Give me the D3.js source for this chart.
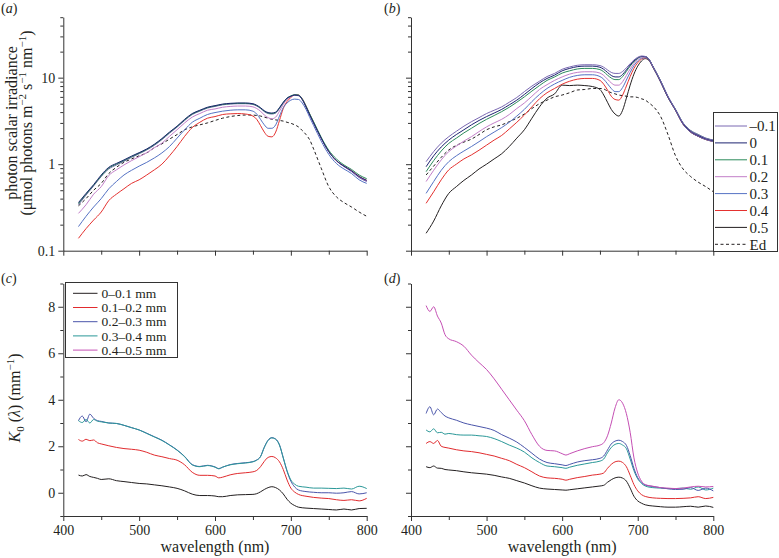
<!DOCTYPE html>
<html><head><meta charset="utf-8">
<script src="https://cdn.jsdelivr.net/npm/d3@7"></script>
<style>
body{margin:0;background:#fff}
svg{display:block}
text{font-family:"Liberation Serif","Times New Roman",serif;fill:#231f20}
</style>
</head><body>
<svg id="chart" width="779" height="558"></svg>
<script>
// ---------- DATA ----------
// wavelengths (nm) for scalar irradiance panels (a, b)
const wlE = [420,430,440,450,460,470,480,490,500,510,520,530,540,550,560,570,580,590,600,610,620,630,640,650,
  655,660,665,670,675,680,685,690,695,700,705,710,715,720,725,730,
  740,750,760,770,780,790,800];
const depthLabels = ["\u20130.1","0","0.1","0.2","0.3","0.4","0.5","Ed"];
// panel (a)
const irrA_m01 = [0.34,0.44,0.56,0.72,0.88,0.98,1.08,1.2,1.32,1.46,1.65,1.92,2.28,2.68,3.2,3.75,4.1,4.45,4.65,4.85,4.95,5.0,5.0,4.9,
  4.7,4.4,4.05,3.85,3.8,3.9,4.4,5.1,5.75,6.1,6.3,6.2,5.6,4.6,3.7,3.0, 2.0,1.4,1.1,0.94,0.82,0.7,0.63];
const irrA_0 = [0.36,0.46,0.58,0.75,0.92,1.02,1.12,1.24,1.36,1.5,1.7,1.98,2.35,2.75,3.3,3.85,4.2,4.55,4.75,4.95,5.05,5.1,5.1,5.0,
  4.8,4.5,4.15,3.95,3.9,4.0,4.5,5.2,5.8,6.1,6.3,6.25,5.6,4.6,3.7,3.0, 2.0,1.4,1.1,0.95,0.84,0.72,0.65];
const irrA_01 = [0.35,0.45,0.57,0.73,0.9,1.0,1.1,1.22,1.34,1.48,1.68,1.95,2.32,2.72,3.25,3.8,4.15,4.5,4.7,4.9,5.0,5.05,5.05,4.95,
  4.75,4.45,4.1,3.9,3.85,3.95,4.45,5.15,5.8,6.15,6.35,6.3,5.7,4.7,3.8,3.1, 2.05,1.45,1.15,0.98,0.87,0.75,0.68];
const irrA_02 = [0.27,0.34,0.45,0.55,0.74,0.86,0.98,1.1,1.22,1.36,1.55,1.75,2.1,2.5,3.0,3.5,3.85,4.2,4.35,4.55,4.65,4.7,4.7,4.6,
  4.4,4.1,3.7,3.45,3.35,3.5,4.1,4.9,5.6,6.0,6.25,6.2,5.6,4.6,3.7,3.0, 2.0,1.4,1.1,0.94,0.83,0.71,0.64];
const irrA_03 = [0.19,0.25,0.32,0.4,0.52,0.63,0.75,0.85,0.95,1.05,1.18,1.35,1.6,2.0,2.5,3.05,3.4,3.75,3.95,4.1,4.2,4.25,4.25,4.1,
  3.8,3.3,2.85,2.6,2.6,2.85,3.6,4.5,5.1,5.5,5.65,5.6,5.1,4.3,3.45,2.8, 1.85,1.3,1.02,0.88,0.78,0.66,0.6];
const irrA_04 = [0.139,0.18,0.226,0.28,0.38,0.45,0.52,0.6,0.66,0.75,0.86,1.0,1.25,1.6,2.1,2.65,3.05,3.4,3.55,3.75,3.82,3.85,3.8,3.6,
  3.3,2.8,2.35,2.1,2.07,2.35,3.2,4.4,5.3,5.9,6.3,6.3,5.7,4.7,3.75,3.05, 2.0,1.4,1.1,0.95,0.84,0.72,0.65];
const edA = [0.33,0.4,0.5,0.6,0.78,0.92,1.05,1.15,1.25,1.35,1.55,1.72,1.95,2.2,2.5,2.7,2.85,3.0,3.2,3.4,3.55,3.65,3.7,3.7,
  3.65,3.6,3.5,3.4,3.3,3.25,3.2,3.15,3.05,2.97,2.85,2.7,2.45,2.2,1.9,1.5, 0.9,0.55,0.42,0.36,0.32,0.28,0.25];
// panel (b)
const irrB_m01 = [1.07,1.4,1.75,2.08,2.4,2.75,3.1,3.45,3.85,4.2,4.6,5.2,5.9,6.9,8.0,9.1,10.3,11.2,12.5,13.3,13.9,14.1,14.1,13.8,
  13.2,12.3,11.5,11.2,11.2,11.8,13.0,14.5,16.0,17.2,17.8,17.6,16.3,13.6,11.3,9.3, 6.1,4.3,3.0,2.45,2.2,2.0,1.9];
const irrB_0 = [0.935,1.25,1.58,1.9,2.2,2.5,2.85,3.2,3.55,3.9,4.3,4.85,5.5,6.4,7.5,8.7,9.8,10.7,12.0,12.8,13.4,13.6,13.6,13.2,
  12.5,11.5,10.6,10.2,10.2,10.9,12.3,14.0,15.6,16.9,17.6,17.5,16.2,13.5,11.2,9.2, 6.0,4.25,2.95,2.4,2.15,1.97,1.87];
const irrB_01 = [0.82,1.1,1.42,1.74,2.0,2.3,2.6,2.95,3.3,3.65,4.05,4.55,5.2,6.0,7.0,8.1,9.3,10.2,11.3,12.0,12.6,12.8,12.8,12.4,
  11.7,10.7,9.9,9.5,9.5,10.3,11.8,13.6,15.3,16.7,17.5,17.5,16.3,13.6,11.3,9.3, 6.05,4.3,3.0,2.45,2.2,2.0,1.9];
const irrB_02 = [0.63,0.85,1.12,1.4,1.62,1.85,2.08,2.38,2.7,3.0,3.3,3.75,4.4,5.1,6.1,7.3,8.3,9.3,10.2,11.0,11.5,11.7,11.7,11.3,
  10.6,9.6,8.7,8.2,8.2,9.0,10.6,12.6,14.6,16.2,17.2,17.3,16.2,13.5,11.2,9.2, 6.0,4.25,2.95,2.4,2.15,1.97,1.87];
const irrB_03 = [0.46,0.63,0.85,1.07,1.25,1.42,1.6,1.82,2.08,2.35,2.65,3.05,3.6,4.3,5.3,6.4,7.5,8.45,9.3,10.1,10.6,10.8,10.8,10.3,
  9.6,8.5,7.5,6.9,6.9,7.7,9.4,11.5,13.8,15.6,16.8,17.0,16.0,13.4,11.1,9.1, 5.95,4.2,2.9,2.35,2.1,1.93,1.83];
const irrB_04 = [0.353,0.48,0.66,0.86,1.0,1.15,1.28,1.45,1.66,1.9,2.15,2.55,3.05,3.7,4.6,5.7,6.7,7.5,8.4,9.1,9.6,9.8,9.8,9.3,
  8.4,7.2,6.1,5.6,5.5,6.3,8.0,10.3,12.8,14.9,16.4,16.9,16.0,13.4,11.1,9.1, 5.95,4.2,2.9,2.35,2.1,1.93,1.83];
const irrB_05 = [0.159,0.22,0.33,0.46,0.55,0.65,0.75,0.88,1.0,1.15,1.32,1.6,2.0,2.5,3.4,4.6,5.8,6.5,8.2,8.1,8.2,8.1,7.9,7.3,
  6.3,5.2,4.3,3.8,3.6,4.2,5.8,8.2,11.0,13.6,15.6,16.6,15.8,13.2,11.0,9.0, 5.9,4.2,2.9,2.35,2.1,1.93,1.83];
const edB = [0.75,0.95,1.2,1.46,1.65,1.8,1.95,2.2,2.5,2.7,2.85,3.1,3.4,3.8,4.4,5.0,5.5,6.0,6.3,6.7,7.2,7.3,7.5,7.5,
  7.4,7.0,6.7,6.5,6.3,6.2,6.1,6.0,6.0,5.9,5.7,5.5,5.1,4.7,4.2,3.6, 2.2,1.25,0.88,0.72,0.62,0.55,0.48];

// wavelengths (nm) for attenuation panels (c, d)
const wlK = [420,425,430,435,440,445,450,
  460,470,480,490,500,510,520,530,540,550,560,570,580,590,600,
  605,610, 620,630,640,650,
  655,660,665,670,675,680,685,690,695,700,705,710,
  720,730,740,750,760,770,780,790,800];
const layerLabels = ["0\u20130.1 mm","0.1\u20130.2 mm","0.2\u20130.3 mm","0.3\u20130.4 mm","0.4\u20130.5 mm"];
// panel (c)
const kC_1 = [0.76,0.72,0.78,0.7,0.66,0.62,0.57, 0.6,0.52,0.48,0.44,0.4,0.38,0.34,0.3,0.25,0.19,0.08,-0.06,-0.12,-0.12,-0.14,
  -0.17,-0.17, -0.12,-0.09,-0.08,-0.07, -0.04,0.04,0.14,0.22,0.26,0.22,0.12,-0.05,-0.28,-0.45,-0.55,-0.62,
  -0.66,-0.68,-0.7,-0.72,-0.74,-0.7,-0.74,-0.68,-0.67];
const kC_2 = [2.29,2.22,2.3,2.24,2.27,2.15,2.1, 2.02,1.95,1.9,1.87,1.83,1.74,1.62,1.55,1.47,1.4,1.2,0.88,0.75,0.75,0.72,
  0.64,0.67, 0.77,0.83,0.86,0.9, 0.96,1.12,1.35,1.52,1.56,1.5,1.33,1.0,0.55,0.2,0.03,-0.07,
  -0.15,-0.2,-0.23,-0.25,-0.3,-0.33,-0.3,-0.35,-0.24];
const kC_3 = [3.1,3.3,3.05,3.38,3.2,3.1,3.07, 3.0,2.98,2.9,2.8,2.7,2.56,2.41,2.26,2.06,1.84,1.56,1.21,1.13,1.18,1.11,
  1.04,1.1, 1.21,1.26,1.29,1.34, 1.41,1.56,1.96,2.26,2.37,2.31,2.06,1.5,0.92,0.5,0.25,0.12,
  0.05,0.02,0.0,0.0,-0.02,0.0,0.05,-0.05,0.0];
const kC_4 = [3.1,3.02,3.15,3.0,3.15,3.08,3.05, 3.0,2.98,2.9,2.8,2.7,2.55,2.4,2.25,2.05,1.83,1.55,1.2,1.12,1.17,1.1,
  1.03,1.1, 1.2,1.25,1.28,1.33, 1.4,1.55,1.95,2.25,2.36,2.3,2.05,1.5,0.95,0.55,0.37,0.28,
  0.24,0.2,0.2,0.19,0.18,0.2,0.16,0.28,0.18];
// panel (d)
const kD_1 = [1.12,1.08,1.15,1.06,1.05,1.0,0.98, 0.95,0.9,0.86,0.83,0.8,0.75,0.68,0.62,0.52,0.42,0.3,0.2,0.16,0.14,0.12,
  0.11,0.13, 0.17,0.21,0.25,0.29, 0.32,0.45,0.56,0.64,0.67,0.63,0.5,0.2,-0.15,-0.35,-0.45,-0.52,
  -0.57,-0.6,-0.62,-0.62,-0.6,-0.58,-0.62,-0.57,-0.63];
const kD_2 = [2.12,2.2,2.12,2.25,2.0,1.95,1.92, 1.85,1.8,1.77,1.72,1.65,1.58,1.48,1.38,1.22,1.08,0.9,0.72,0.64,0.62,0.58,
  0.54,0.58, 0.65,0.7,0.76,0.8, 0.85,1.05,1.22,1.33,1.36,1.3,1.12,0.75,0.35,0.08,-0.08,-0.16,
  -0.22,-0.24,-0.25,-0.25,-0.24,-0.22,-0.17,-0.25,-0.2];
const kD_3 = [3.41,3.7,3.35,3.6,3.45,3.3,3.22, 3.12,3.0,2.92,2.85,2.78,2.68,2.5,2.35,2.18,1.95,1.7,1.45,1.3,1.25,1.2,
  1.17,1.22, 1.32,1.38,1.42,1.48, 1.58,1.84,2.1,2.22,2.26,2.2,2.04,1.6,1.05,0.65,0.45,0.33,
  0.27,0.22,0.17,0.14,0.15,0.22,0.1,0.2,0.08];
const kD_4 = [2.7,2.62,2.75,2.58,2.6,2.52,2.55, 2.5,2.48,2.48,2.45,2.42,2.33,2.2,2.05,1.92,1.75,1.5,1.3,1.15,1.12,1.08,
  1.05,1.1, 1.18,1.24,1.3,1.36, 1.45,1.72,1.95,2.08,2.12,2.05,1.9,1.45,0.95,0.6,0.4,0.29,
  0.22,0.2,0.18,0.18,0.2,0.15,0.25,0.12,0.2];
const kD_5 = [8.05,7.8,8.0,7.6,7.3,6.8,6.62, 6.5,6.3,5.92,5.6,5.3,4.9,4.45,4.0,3.55,3.1,2.5,2.0,1.82,1.8,1.68,
  1.62,1.68, 1.8,1.9,1.98,2.05, 2.15,2.45,3.0,3.65,4.0,3.85,3.4,2.6,1.5,0.85,0.5,0.35,
  0.28,0.22,0.2,0.18,0.2,0.25,0.28,0.25,0.27];

// axis ticks
const xMajor = [400,500,600,700,800];
const xMinor = [450,550,650,750];
const logMajor = [0.1,1,10];
const logMinor = [0.2,0.3,0.4,0.5,0.6,0.7,0.8,0.9,2,3,4,5,6,7,8,9,20,30,40,50];
const kMajor = [0,2,4,6,8];
const kMinor = [-1,1,3,5,7,9];

// ---------- STYLE ----------
const depthColors = ["#7a68b2","#1d2470","#2b8a5a","#c27ec8","#5572c4","#e4312f","#231f20","#231f20"];
const layerColors = ["#231f20","#e12b2e","#4a55aa","#2a9898","#c54fb4"];
const AX = "#333";
const FS = 14;
const SERIF = "'Liberation Serif','Times New Roman',serif";

const svg = d3.select("#chart");

function drawAxes(g, x, y, opts){
  g.append("g").attr("transform",`translate(0,${y.range()[0]})`)
    .call(d3.axisBottom(x).tickValues(xMajor).tickSize(5).tickSizeOuter(0).tickPadding(4)
      .tickFormat(opts.xLabels ? d3.format("d") : ""));
  g.append("g").attr("transform",`translate(0,${y.range()[0]})`)
    .call(d3.axisBottom(x).tickValues(xMinor).tickSize(4).tickSizeOuter(0).tickFormat(""))
    .select(".domain").remove();
  g.append("g").attr("transform",`translate(${x.range()[0]},0)`)
    .call(d3.axisLeft(y).tickValues(opts.yMajor).tickSize(5).tickSizeOuter(0).tickPadding(3)
      .tickFormat(opts.yLabels ? opts.yFmt : ""));
  g.append("g").attr("transform",`translate(${x.range()[0]},0)`)
    .call(d3.axisLeft(y).tickValues(opts.yMinor).tickSize(3).tickSizeOuter(0).tickFormat(""))
    .select(".domain").remove();
  g.selectAll("g").attr("font-family",SERIF).attr("font-size",FS);
  g.selectAll(".domain, .tick line").attr("stroke",AX).attr("stroke-width",1);
  g.selectAll(".tick text").attr("fill","#231f20");
}

function drawLines(g, x, y, wl, series, colors, dashes){
  const line = d3.line().x((d,i)=>x(wl[i])).y(d=>y(d)).curve(d3.curveMonotoneX);
  series.forEach((s,i)=>{
    g.append("path").datum(s).attr("d",line).attr("fill","none")
      .attr("stroke",colors[i]).attr("stroke-width",1)
      .attr("stroke-dasharray",dashes && dashes[i] ? dashes[i] : null);
  });
}

const logFmt = d => d===0.1 ? "0.1" : d3.format("d")(d);

// panel geometry
const xL = [63.3,366.7], xR = [411,713.3];
const yTop = [250.7,17.2], yBot = [516,283.5];

// (a)
{
  const g = svg.append("g");
  const x = d3.scaleLinear().domain([400,800]).range(xL);
  const y = d3.scaleLog().domain([0.1,50]).range(yTop);
  drawAxes(g,x,y,{xLabels:false,yLabels:true,yMajor:logMajor,yMinor:logMinor,yFmt:logFmt});
  drawLines(g,x,y,wlE,[edA,irrA_04,irrA_03,irrA_02,irrA_m01,irrA_01,irrA_0],
    [depthColors[7],depthColors[5],depthColors[4],depthColors[3],depthColors[0],depthColors[2],depthColors[1]],
    ["3,2.5"]);
}
// (b)
{
  const g = svg.append("g");
  const x = d3.scaleLinear().domain([400,800]).range(xR);
  const y = d3.scaleLog().domain([0.1,50]).range(yTop);
  drawAxes(g,x,y,{xLabels:false,yLabels:false,yMajor:logMajor,yMinor:logMinor,yFmt:logFmt});
  drawLines(g,x,y,wlE,[edB,irrB_05,irrB_04,irrB_03,irrB_02,irrB_01,irrB_0,irrB_m01],
    [depthColors[7],depthColors[6],depthColors[5],depthColors[4],depthColors[3],depthColors[2],depthColors[1],depthColors[0]],
    ["3,2.5"]);
  // legend
  const lg = svg.append("g");
  lg.append("rect").attr("x",713.5).attr("y",112.5).attr("width",64).attr("height",139)
    .attr("fill","#fff").attr("stroke","#333").attr("stroke-width",1);
  depthLabels.forEach((t,i)=>{
    const yy = 126 + i*16.9;
    lg.append("line").attr("x1",715).attr("x2",747).attr("y1",yy).attr("y2",yy)
      .attr("stroke",depthColors[i]).attr("stroke-width",1)
      .attr("stroke-dasharray", i===7 ? "3,2.5" : null);
    lg.append("text").attr("x",749.5).attr("y",yy).attr("dy","0.35em").attr("font-size",15).text(t);
  });
}
// (c)
{
  const g = svg.append("g");
  const x = d3.scaleLinear().domain([400,800]).range(xL);
  const y = d3.scaleLinear().domain([-1,9]).range(yBot);
  drawAxes(g,x,y,{xLabels:true,yLabels:true,yMajor:kMajor,yMinor:kMinor,yFmt:d3.format("d")});
  drawLines(g,x,y,wlK,[kC_1,kC_2,kC_3,kC_4],layerColors.slice(0,4));
  const lg = svg.append("g");
  lg.append("rect").attr("x",65.5).attr("y",282.5).attr("width",112).attr("height",75)
    .attr("fill","#fff").attr("stroke","#333").attr("stroke-width",1);
  layerLabels.forEach((t,i)=>{
    const yy = 293.3 + i*14.2;
    lg.append("line").attr("x1",73).attr("x2",97.5).attr("y1",yy).attr("y2",yy)
      .attr("stroke",layerColors[i]).attr("stroke-width",1);
    lg.append("text").attr("x",101.5).attr("y",yy).attr("dy","0.35em").attr("font-size",13.5).text(t);
  });
}
// (d)
{
  const g = svg.append("g");
  const x = d3.scaleLinear().domain([400,800]).range(xR);
  const y = d3.scaleLinear().domain([-1,9]).range(yBot);
  drawAxes(g,x,y,{xLabels:true,yLabels:false,yMajor:kMajor,yMinor:kMinor,yFmt:d3.format("d")});
  drawLines(g,x,y,wlK,[kD_1,kD_2,kD_4,kD_3,kD_5],
    [layerColors[0],layerColors[1],layerColors[3],layerColors[2],layerColors[4]]);
}

// panel letters
[["(a)",1,13],["(b)",384,13],["(c)",1,283],["(d)",384,283]].forEach(([t,x,y])=>{
  const tx = svg.append("text").attr("x",x).attr("y",y).attr("font-size",14);
  tx.append("tspan").text("(");
  tx.append("tspan").attr("font-style","italic").text(t[1]);
  tx.append("tspan").text(")");
});

// axis titles
svg.append("text").attr("transform","translate(16.5,123) rotate(-90)")
  .attr("text-anchor","middle").attr("font-size",16).text("photon scalar irradiance");
const yl2 = svg.append("text").attr("transform","translate(31.5,123) rotate(-90)")
  .attr("text-anchor","middle").attr("font-size",16);
yl2.append("tspan").text("(\u03bcmol photons m");
yl2.append("tspan").attr("dy",-6).attr("font-size",11).text("\u22122");
yl2.append("tspan").attr("dy",6).text(" s");
yl2.append("tspan").attr("dy",-6).attr("font-size",11).text("\u22121");
yl2.append("tspan").attr("dy",6).text(" nm");
yl2.append("tspan").attr("dy",-6).attr("font-size",11).text("\u22121");
yl2.append("tspan").attr("dy",6).text(")");

const kl = svg.append("text").attr("transform","translate(20,398) rotate(-90)")
  .attr("text-anchor","middle").attr("font-size",16);
kl.append("tspan").attr("font-style","italic").text("K");
kl.append("tspan").attr("dy",4).attr("font-size",11).text("0");
kl.append("tspan").attr("dy",-4).text(" (");
kl.append("tspan").attr("font-style","italic").text("\u03bb");
kl.append("tspan").text(") (mm");
kl.append("tspan").attr("dy",-6).attr("font-size",11).text("\u22121");
kl.append("tspan").attr("dy",6).text(")");

svg.append("text").attr("x",(xL[0]+xL[1])/2).attr("y",552).attr("text-anchor","middle")
  .attr("font-size",16).text("wavelength (nm)");
svg.append("text").attr("x",(xR[0]+xR[1])/2).attr("y",552).attr("text-anchor","middle")
  .attr("font-size",16).text("wavelength (nm)");
</script>
</body></html>
